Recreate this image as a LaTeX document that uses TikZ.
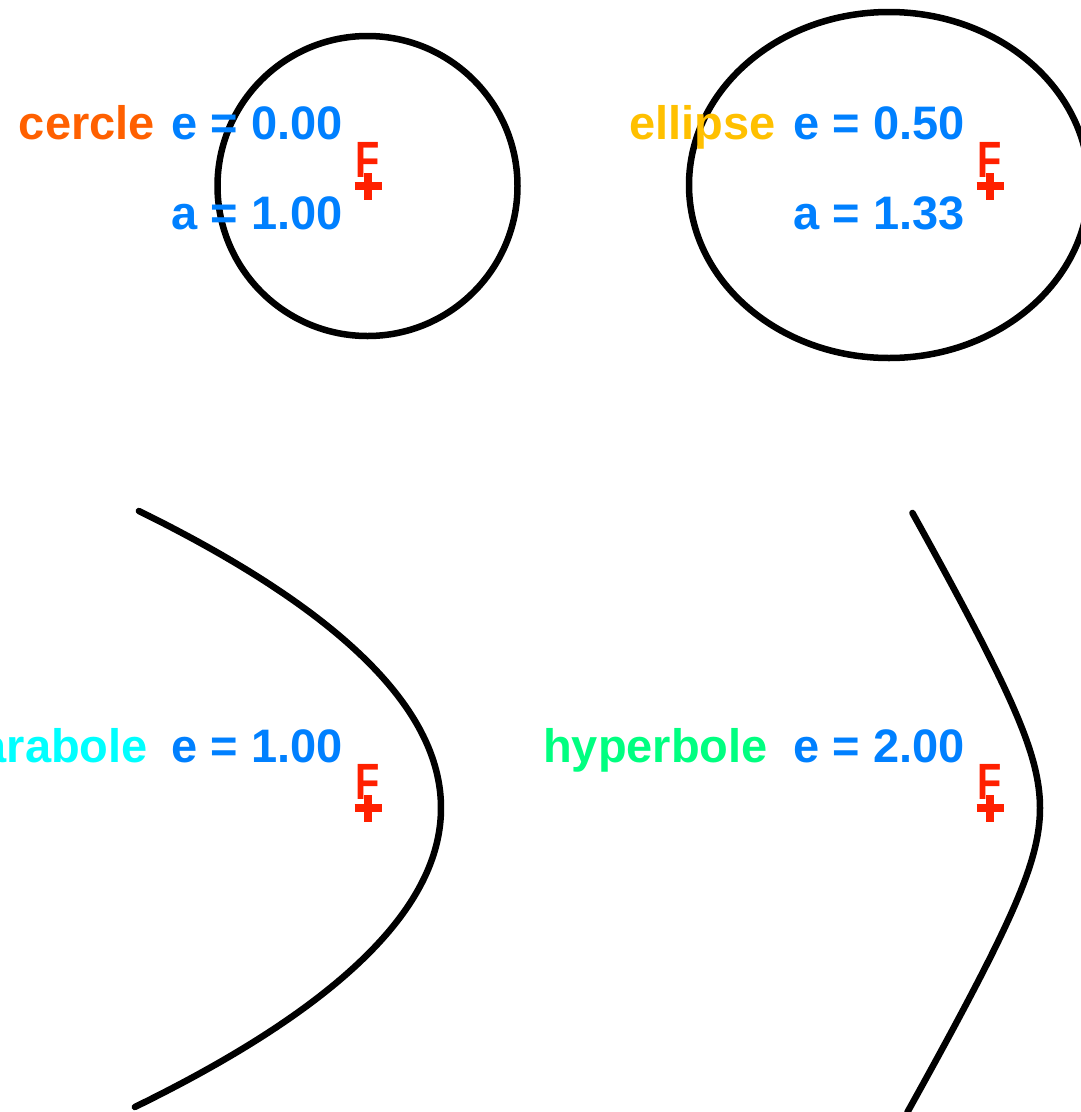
\documentclass[tikz,border=0pt]{standalone}
\usepackage{fontspec}
\setmainfont{Liberation Sans}
\definecolor{cblue}{RGB}{0,128,255}
\definecolor{cred}{RGB}{255,32,0}
\definecolor{corange}{RGB}{255,96,0}
\definecolor{cyellow}{RGB}{255,192,0}
\definecolor{ccyan}{RGB}{0,255,255}
\definecolor{cgreen}{RGB}{0,255,128}
\tikzset{
  curve/.style={black, line width=6.5pt, line cap=round, line join=round},
  lbl/.style={inner sep=0pt, anchor=base east, font=\fontsize{47}{47}\selectfont\bfseries},
  flabel/.style={inner sep=0pt, anchor=base, text=cred, font=\fontsize{51}{51}\selectfont\bfseries},
  fcross/.style={cred, line width=8pt},
}
\begin{document}
\begin{tikzpicture}[x=1pt,y=-1pt]
\useasboundingbox (0,0) rectangle (1081,1112);
\clip (0,0) rectangle (1081,1112);
% foci
\coordinate (F1) at (368,186);
\coordinate (F2) at (990,186);
\coordinate (F3) at (368,808);
\coordinate (F4) at (990,808);
% curves
\draw[curve] (367.5,186) circle[radius=150];
\draw[curve] (889,185) ellipse[x radius=200, y radius=173];
\draw[curve] plot[variable=\t, domain=-297:299, samples=120, smooth] ({441-(\t/17.088)^2},{808+\t});
\draw[curve] plot[variable=\t, domain=-1.94:1.97, samples=120, smooth] ({1090-50*cosh(\t)},{808+86.6*sinh(\t)});
% labels
\node[lbl, text=corange] (n1) at (155,139) {cercle};
\node[lbl, text=cblue] (e1) at (343,139) {e = 0.00};
\node[lbl, text=cblue] (a1) at (343,229) {a = 1.00};
\node[lbl, text=cyellow] (n2) at (776,139) {ellipse};
\node[lbl, text=cblue] (e2) at (965,139) {e = 0.50};
\node[lbl, text=cblue] (a2) at (965,229) {a = 1.33};
\node[lbl, text=ccyan] (n3) at (148,762) {parabole};
\node[lbl, text=cblue] (e3) at (343,762) {e = 1.00};
\node[lbl, text=cgreen] (n4) at (768,762) {hyperbole};
\node[lbl, text=cblue] (e4) at (965,762) {e = 2.00};
% focus marks
\foreach \f in {F1,F2,F3,F4}{
  \node[flabel] (L\f) at ([yshift=9pt]\f) {\scalebox{0.78}[1]{F}};
  \draw[fcross] ([xshift=-13.5pt]\f) -- ([xshift=13.5pt]\f);
  \draw[fcross] ([yshift=-13.5pt]\f) -- ([yshift=13.5pt]\f);
}
\end{tikzpicture}
\end{document}
